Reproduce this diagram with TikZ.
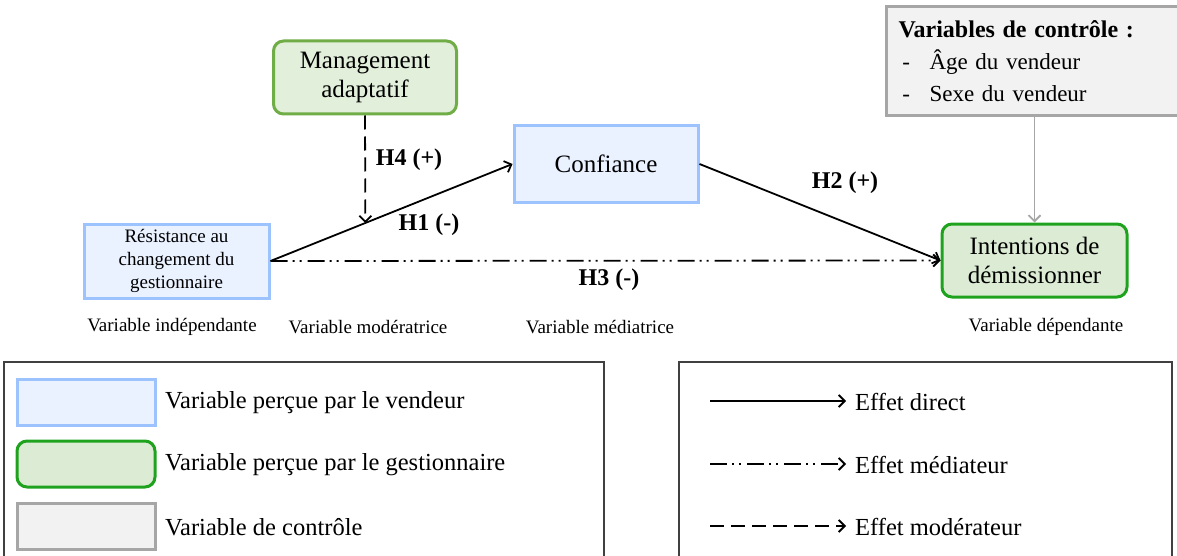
\documentclass[tikz,border=0pt]{standalone}
\usepackage{fontspec}
\setmainfont{Liberation Serif}
\usetikzlibrary{arrows.meta,calc}
\definecolor{bluebd}{HTML}{9DC3FF}
\definecolor{bluefill}{HTML}{EAF1FF}
\definecolor{mgbd}{HTML}{70AD47}
\definecolor{mgfill}{HTML}{E2EFDA}
\definecolor{grbd}{HTML}{1FA31F}
\definecolor{grfill}{HTML}{DCEBD3}
\definecolor{graybd}{HTML}{A6A6A6}
\definecolor{grayfill}{HTML}{F2F2F2}
\definecolor{legbd}{HTML}{404040}
\begin{document}
\begin{tikzpicture}[x=1pt,y=-1pt,
  bluebox/.style={draw=bluebd, fill=bluefill, line width=3pt, inner sep=0pt, align=center},
  mgbox/.style={draw=mgbd, fill=mgfill, line width=3pt, rounded corners=10pt, inner sep=0pt, align=center},
  grbox/.style={draw=grbd, fill=grfill, line width=3pt, rounded corners=10pt, inner sep=0pt, align=center},
  ctrlbox/.style={draw=graybd, fill=grayfill, line width=3pt, inner xsep=12pt, inner ysep=0pt, align=left},
  big/.style={font=\fontsize{25}{29}\selectfont},
  small/.style={font=\fontsize{19}{23}\selectfont},
  hlab/.style={font=\fontsize{24}{28}\selectfont\bfseries},
  leg/.style={font=\fontsize{24.5}{28}\selectfont, anchor=west, inner sep=0pt},
  arr/.style={line width=1.8pt, -{Straight Barb[length=6pt,width=12pt,line width=1.8pt]}},
  mediat/.style={arr, dash pattern=on 17pt off 5pt on 2pt off 5pt on 2pt off 6pt},
  moder/.style={arr, dash pattern=on 14pt off 7pt},
  legframe/.style={draw=legbd, line width=1.3pt}]
\useasboundingbox (0,0) rectangle (1177,556);
\clip (0,0) rectangle (1177,556);

% main nodes
\node[mgbox, big, minimum width=183, minimum height=73] (mgmt) at (365,77.5) {Management\\adaptatif};
\node[bluebox, big, minimum width=184, minimum height=76] (conf) at (606,164) {Confiance};
\node[bluebox, small, minimum width=185, minimum height=74] (res) at (176.5,261) {Résistance au\\changement du\\gestionnaire};
\node[grbox, big, minimum width=185, minimum height=73] (int) at (1034.5,260.5) {Intentions de\\démissionner};
\node[ctrlbox, anchor=north west, minimum width=300, minimum height=109, text width=276,
  font=\fontsize{23}{32}\selectfont] (ctrl) at (885,5)
  {{\fontsize{24}{32}\selectfont\bfseries Variables de contrôle :}\\
   \makebox[31pt][l]{\,-}Âge du vendeur\\
   \makebox[31pt][l]{\,-}Sexe du vendeur};

% connectors
\coordinate (h4end) at ($(res.east)!0.392!(conf.west)$);
\draw[arr] (res.east) -- (conf.west);
\draw[arr] (conf.east) -- (int.west);
\draw[mediat] (res.east) -- (int.west);
\draw[moder] (mgmt.south) -- (h4end);
\draw[arr, draw=graybd, line width=1.5pt] (ctrl.south -| int.north) -- (int.north);

% hypothesis labels
\node[hlab] (h4) at (409,160) {H4 (+)};
\node[hlab] (h1) at (429,225) {H1 (-)};
\node[hlab] (h2) at (845,183) {H2 (+)};
\node[hlab] (h3) at (609,280) {H3 (-)};

% role labels
\node[small] (l1) at (172,327) {Variable indépendante};
\node[small] (l2) at (368,327) {Variable modératrice};
\node[small] (l3) at (600,327) {Variable médiatrice};
\node[small] (l4) at (1046,327) {Variable dépendante};

% legend left
\draw[legframe] (4,362) rectangle (604,580);
\node[bluebox, minimum width=138, minimum height=46] (s1) at (86,402) {};
\node[grbox, minimum width=138, minimum height=46] (s2) at (86,464) {};
\node[draw=graybd, fill=grayfill, line width=3pt, minimum width=138, minimum height=46] (s3) at (86,526) {};
\node[leg] (t1) at (165,403) {Variable perçue par le vendeur};
\node[leg] (t2) at (165,465) {Variable perçue par le gestionnaire};
\node[leg] (t3) at (165,527) {Variable de contrôle};

% legend right
\draw[legframe] (679,362) rectangle (1172,580);
\coordinate (a1s) at (710,401); \coordinate (a1e) at (846,401);
\coordinate (a2s) at (710,464); \coordinate (a2e) at (846,464);
\coordinate (a3s) at (710,526); \coordinate (a3e) at (846,526);
\draw[arr] (a1s) -- (a1e);
\draw[mediat] (a2s) -- (a2e);
\draw[moder] (a3s) -- (a3e);
\node[leg] (e1) at (855,402) {Effet direct};
\node[leg] (e2) at (855,465) {Effet médiateur};
\node[leg] (e3) at (855,527) {Effet modérateur};
\end{tikzpicture}
\end{document}
